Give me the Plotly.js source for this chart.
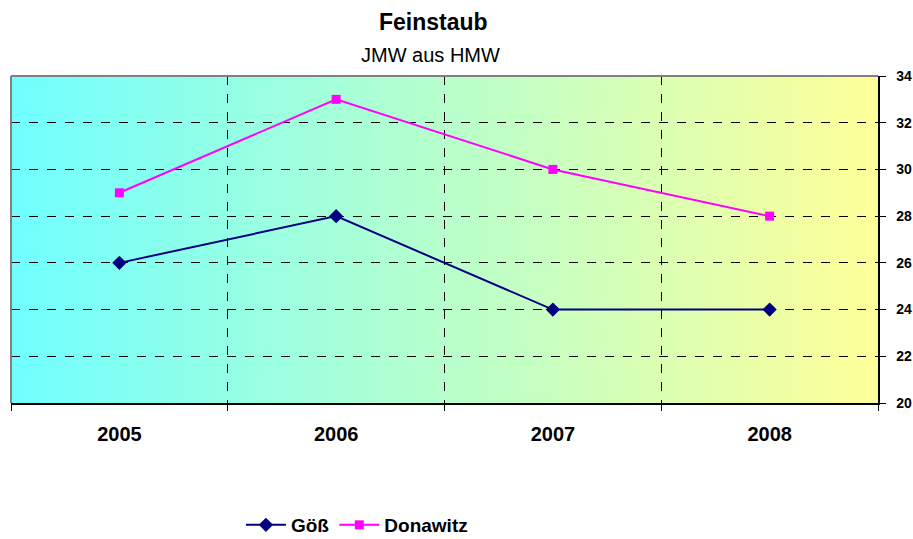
<!DOCTYPE html>
<html>
<head>
<meta charset="utf-8">
<script src="https://cdn.plot.ly/plotly-3.0.1.min.js"></script>
<style>html,body{margin:0;padding:0;background:#fff;}#chart{width:913px;height:539px;}</style>
</head>
<body>
<div id="chart"></div>
<script>
const years = ["2005", "2006", "2007", "2008"];
const goess = [26, 28, 24, 24];
const donawitz = [29, 33, 30, 28];
const seriesNames = ["Göß", "Donawitz"];
const yTicks = [20, 22, 24, 26, 28, 30, 32, 34];

const gradSvg = '<svg xmlns="http://www.w3.org/2000/svg" width="100" height="100" preserveAspectRatio="none">' +
  '<defs><linearGradient id="g" x1="0" y1="0" x2="1" y2="0">' +
  '<stop offset="0" stop-color="#70FFFF"/><stop offset="1" stop-color="#FFFF99"/>' +
  '</linearGradient></defs><rect width="100" height="100" fill="url(#g)"/></svg>';
const gradUri = 'data:image/svg+xml;base64,' + btoa(gradSvg);

const font = "Arial, 'Liberation Sans', sans-serif";

const traces = [
  {x: years, y: goess, name: seriesNames[0], type: 'scatter', mode: 'lines+markers',
   line: {color: '#000080', width: 2}, marker: {symbol: 'diamond', size: 11, color: '#000080'}},
  {x: years, y: donawitz, name: seriesNames[1], type: 'scatter', mode: 'lines+markers',
   line: {color: '#FF00FF', width: 2}, marker: {symbol: 'square', size: 9, color: '#FF00FF'}}
];

const layout = {
  width: 913, height: 539,
  margin: {l: 11, r: 35, t: 76, b: 136, autoexpand: false},
  paper_bgcolor: '#ffffff', plot_bgcolor: 'rgba(0,0,0,0)',
  font: {family: font, color: '#000'},
  showlegend: true,
  legend: {orientation: 'h', x: 0.399, xanchor: 'center', y: -0.373, yanchor: 'middle',
           font: {family: font, size: 19, weight: 'bold'}, itemwidth: 40},
  xaxis: {type: 'category', range: [-0.5, 3.5], tickson: 'boundaries', ticks: 'outside', ticklen: 6,
          tickcolor: '#000', showgrid: true, gridcolor: '#000', griddash: 'dash', gridwidth: 1,
          showline: true, linecolor: '#000', linewidth: 1.5, zeroline: false, automargin: false,
          tickfont: {family: font, size: 20, weight: 'bold'}, ticklabelstandoff: 12},
  yaxis: {side: 'right', range: [20, 34], tickvals: yTicks, ticks: 'outside', ticklen: 6, tickcolor: '#000',
          showgrid: true, gridcolor: '#000', griddash: 'dash', gridwidth: 1, automargin: false,
          showline: true, linecolor: '#000', linewidth: 1.5, zeroline: false,
          tickfont: {family: font, size: 14, weight: 'bold'}, ticklabelstandoff: 8},
  images: [{source: gradUri, xref: 'paper', yref: 'paper', x: 0, y: 1, sizex: 1, sizey: 1,
            xanchor: 'left', yanchor: 'top', sizing: 'stretch', layer: 'below'}],
  shapes: [
    {type: 'line', xref: 'paper', yref: 'paper', x0: 0, x1: 1, y0: 1, y1: 1, line: {color: '#808080', width: 2}},
    {type: 'line', xref: 'paper', yref: 'paper', x0: 0, x1: 0, y0: 0, y1: 1, line: {color: '#808080', width: 2}}
  ],
  annotations: [
    {text: 'Feinstaub', xref: 'paper', yref: 'paper', x: 0.5, y: 1, yanchor: 'middle', yshift: 54, xshift: -11, showarrow: false,
     font: {family: font, size: 23, weight: 'bold'}},
    {text: 'JMW aus HMW', xref: 'paper', yref: 'paper', x: 0.5, y: 1, yanchor: 'middle', yshift: 21, xshift: -14, showarrow: false,
     font: {family: font, size: 20}}
  ]
};

Plotly.newPlot('chart', traces, layout, {displayModeBar: false, staticPlot: true});
</script>
</body>
</html>
